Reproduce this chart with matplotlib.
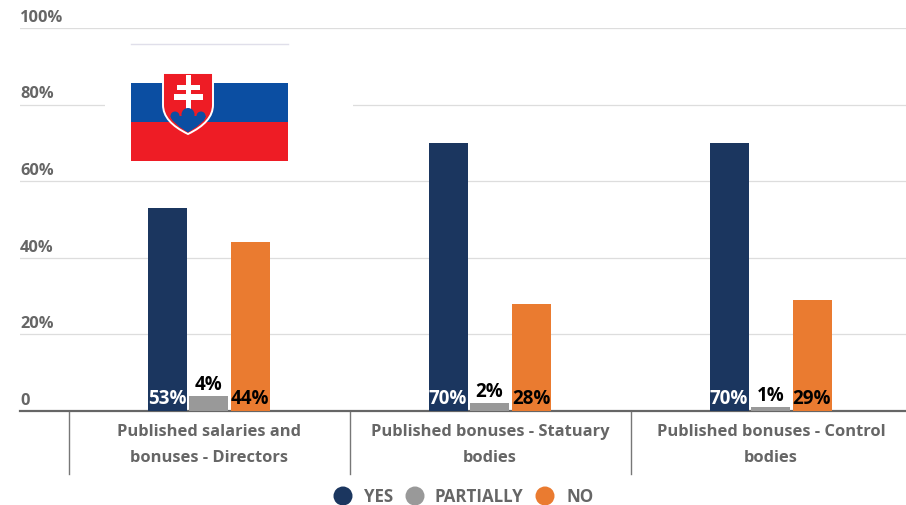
import matplotlib
matplotlib.use("Agg")
import matplotlib.pyplot as plt
from matplotlib.patches import Rectangle, Polygon, Circle, PathPatch
from matplotlib.path import Path
import numpy as np

plt.rcParams['font.family'] = ['Open Sans', 'DejaVu Sans']

categories = ["Published salaries and\nbonuses - Directors",
              "Published bonuses - Statuary\nbodies",
              "Published bonuses - Control\nbodies"]
yes = [53, 70, 70]
partially = [4, 2, 1]
no = [44, 28, 29]
series_names = ["YES", "PARTIALLY", "NO"]
colors = ["#1b365f", "#999999", "#ea7b30"]
label_colors = ["white", "black", "black"]
yticks = [0, 20, 40, 60, 80, 100]
yticklabels = ["0", "20%", "40%", "60%", "80%", "100%"]

W, H = 906, 505
fig = plt.figure(figsize=(W/100, H/100), dpi=100)
fig.patch.set_facecolor("white")

# main axes: 0 at y=411px, 100 at y=28px; category centres 281px apart
ax = fig.add_axes([20/W, 1-411/H, (W-20)/W, (411-28)/H])
ax.set_ylim(0, 100)
ax.set_xlim((20-208.5)/281, (906-208.5)/281)
for s in ax.spines.values():
    s.set_visible(False)
ax.spines['bottom'].set_visible(True)
ax.spines['bottom'].set_color("#666666")
ax.spines['bottom'].set_linewidth(1.6)
ax.set_yticks(yticks)
ax.set_yticklabels([])
ax.tick_params(axis='both', length=0)
ax.set_xticks([])
ax.yaxis.grid(True, color="#dddddd", lw=0.9)
ax.set_axisbelow(True)
ax.patch.set_alpha(0)

x = np.arange(len(categories))
bw = 39/281
pitch = 41.5/281
for i, (vals, c, lc) in enumerate(zip([yes, partially, no], colors, label_colors)):
    xs = x + (i-1)*pitch
    ax.bar(xs, vals, width=bw, color=c, zorder=3)
    for xx, v in zip(xs, vals):
        y = 0.5 if v > 6 else v + 0.3
        ax.text(xx, y, f"{v}%", ha='center', va='bottom', color=lc,
                fontsize=13.5, fontweight='bold', zorder=5)

for yv, lab in zip(yticks, yticklabels):
    ax.annotate(lab, xy=(0, yv), xycoords=('axes fraction', 'data'),
                xytext=(0, 1.6), textcoords='offset points', ha='left', va='bottom',
                color="#666666", fontsize=11.8, fontweight='bold', zorder=6)

# overlay in pixel coordinates
ov = fig.add_axes([0, 0, 1, 1], zorder=10)
ov.set_xlim(0, W); ov.set_ylim(H, 0); ov.axis('off')

# category separators and labels
for px in [69, 350, 631]:
    ov.plot([px, px], [412, 474], color="#777777", lw=1.0)
for i, cat in enumerate(categories):
    a, b = cat.split("\n")
    cx = 209 + i*281
    ov.text(cx, 432, a, ha='center', va='center', color="#666666", fontsize=11.85, fontweight='bold')
    ov.text(cx, 458, b, ha='center', va='center', color="#666666", fontsize=11.85, fontweight='bold')

# legend
for cx, tx, name, c in zip([343, 415, 545], [364, 435, 566], series_names, colors):
    ov.add_patch(Circle((cx, 496), 9.5, color=c, lw=0, clip_on=True))
    ov.text(tx, 497, name, ha='left', va='center', color="#666666", fontsize=12.2, fontweight='bold')

# flag picture with white surround
ov.add_patch(Rectangle((105, 50), 248, 115, fc="white", ec="none"))
ov.plot([131, 288], [44, 44], color="#e0dfea", lw=1.0)
ov.add_patch(Rectangle((131, 83), 157, 39.5, fc="#0b4ea2", ec="none"))
ov.add_patch(Rectangle((131, 122), 157, 39, fc="#ee1c25", ec="none"))
shield = Path([(163, 73), (213, 73), (213, 105), (213, 122), (188, 134), (163, 122), (163, 105), (163, 73)],
              [Path.MOVETO, Path.LINETO, Path.LINETO, Path.CURVE3, Path.CURVE3, Path.CURVE3, Path.CURVE3, Path.CLOSEPOLY])
ov.add_patch(PathPatch(shield, fc="#ee1c25", ec="white", lw=1.4, zorder=3))
for (xa, ya, w, h) in [(185.5, 75, 5.5, 34), (177, 85, 23, 5), (174, 94, 29, 6)]:
    ov.add_patch(Rectangle((xa, ya), w, h, fc="white", ec="none", zorder=4))
ov.add_patch(Polygon([(170.5, 116), (206, 116), (204, 120.5), (197, 126.5), (188, 132.5), (179, 126.5), (172.5, 120.5)],
                     fc="#0b4ea2", ec="none", zorder=4))
for cx, cy, r in [(175, 116, 4.5), (188, 114.5, 6.5), (201, 116, 4.5)]:
    ov.add_patch(Circle((cx, cy), r, fc="#0b4ea2", ec="none", zorder=4))

fig.savefig("out.png", dpi=100)
